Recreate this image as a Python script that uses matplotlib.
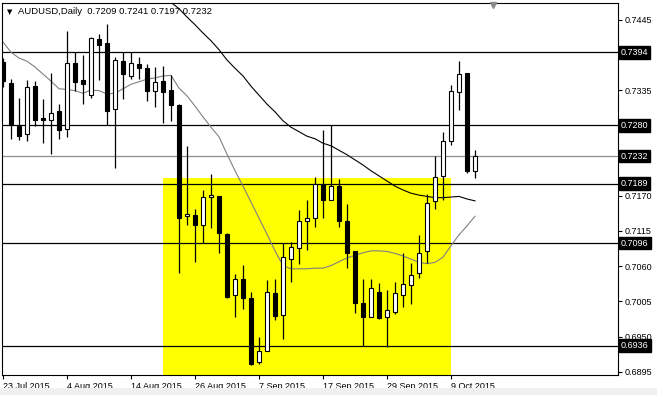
import numpy as np
import pandas as pd
import matplotlib
matplotlib.use("Agg")
import matplotlib.pyplot as plt
import matplotlib.transforms as mtransforms
from matplotlib.patches import Rectangle

# daily bars, weekdays only
dates = pd.bdate_range("2015-07-23", "2015-10-14")

opens = [0.7379, 0.7346, 0.7279, 0.7266, 0.7341, 0.7291, 0.7288, 0.7302, 0.7274, 0.7378,
         0.7351, 0.7327, 0.7415, 0.7409, 0.7305, 0.7380, 0.7357, 0.7375, 0.7369, 0.7334,
         0.7349, 0.7335, 0.7312, 0.7138, 0.7140, 0.7125, 0.7168, 0.7169, 0.7111, 0.7015,
         0.7040, 0.7010, 0.6911, 0.6928, 0.7018, 0.6984, 0.7072, 0.7088, 0.7131, 0.7135,
         0.7188, 0.7164, 0.7185, 0.7131, 0.7083, 0.7003, 0.6981, 0.7020, 0.6981, 0.6989,
         0.7015, 0.7031, 0.7049, 0.7083, 0.7162, 0.7201, 0.7256, 0.7332, 0.7361, 0.7209]
highs = [0.7385, 0.7352, 0.7322, 0.7351, 0.7349, 0.7321, 0.7362, 0.7313, 0.7427, 0.7394,
         0.7390, 0.7418, 0.7422, 0.7438, 0.7387, 0.7394, 0.7395, 0.7386, 0.7376, 0.7371,
         0.7373, 0.7359, 0.7313, 0.7248, 0.7150, 0.7179, 0.7204, 0.7170, 0.7112, 0.7048,
         0.7062, 0.7019, 0.6950, 0.7039, 0.7040, 0.7097, 0.7098, 0.7148, 0.7164, 0.7199,
         0.7273, 0.7280, 0.7196, 0.7157, 0.7084, 0.7040, 0.7040, 0.7034, 0.7023, 0.7036,
         0.7081, 0.7065, 0.7109, 0.7173, 0.7232, 0.7270, 0.7343, 0.7380, 0.7362, 0.7241]
lows = [0.7340, 0.7258, 0.7257, 0.7256, 0.7279, 0.7252, 0.7235, 0.7258, 0.7262, 0.7334,
        0.7314, 0.7322, 0.7351, 0.7280, 0.7214, 0.7321, 0.7352, 0.7352, 0.7318, 0.7309,
        0.7283, 0.7286, 0.7049, 0.7124, 0.7067, 0.7096, 0.7119, 0.7081, 0.7011, 0.6981,
        0.6993, 0.6906, 0.6908, 0.6927, 0.6976, 0.6946, 0.7036, 0.7064, 0.7086, 0.7121,
        0.7136, 0.7163, 0.7122, 0.7057, 0.6987, 0.6935, 0.6980, 0.6977, 0.6934, 0.6985,
        0.6997, 0.7001, 0.7041, 0.7065, 0.7149, 0.7163, 0.7249, 0.7304, 0.7206, 0.7197]
closes = [0.7349, 0.7280, 0.7264, 0.7339, 0.7289, 0.7288, 0.7299, 0.7273, 0.7378, 0.7348,
          0.7344, 0.7416, 0.7406, 0.7303, 0.7382, 0.7360, 0.7378, 0.7370, 0.7334, 0.7347,
          0.7332, 0.7312, 0.7136, 0.7141, 0.7125, 0.7168, 0.7171, 0.7112, 0.7012, 0.7040,
          0.7010, 0.6907, 0.6928, 0.7019, 0.6982, 0.7074, 0.7090, 0.7131, 0.7135, 0.7188,
          0.7164, 0.7186, 0.7131, 0.7081, 0.7003, 0.6981, 0.7026, 0.6979, 0.6991, 0.7018,
          0.7032, 0.7046, 0.7081, 0.7159, 0.7200, 0.7256, 0.7334, 0.7360, 0.7208, 0.7232]

# moving averages
ma_fast = [0.7410, 0.7394, 0.7385, 0.7380, 0.7371, 0.7360, 0.7349, 0.7337, 0.7336, 0.7334,
           0.7330, 0.7335, 0.7334, 0.7329, 0.7330, 0.7337, 0.7344, 0.7348, 0.7352, 0.7354,
           0.7357, 0.7358, 0.7338, 0.7326, 0.7310, 0.7293, 0.7277, 0.7262, 0.7235, 0.7209,
           0.7185, 0.7160, 0.7135, 0.7110, 0.7084, 0.7061, 0.7056, 0.7056, 0.7056, 0.7057,
           0.7057, 0.7061, 0.7067, 0.7073, 0.7077, 0.7081, 0.7084, 0.7084, 0.7083, 0.7080,
           0.7076, 0.7071, 0.7066, 0.7064, 0.7066, 0.7074, 0.7092, 0.7109, 0.7123, 0.7138]
ma_slow = [np.nan] * 20 + [
           0.7491, 0.7472, 0.7462, 0.7449, 0.7437, 0.7424, 0.7412, 0.7398, 0.7382, 0.7369,
           0.7357, 0.7341, 0.7327, 0.7313, 0.7301, 0.7287, 0.7277, 0.7270, 0.7263, 0.7259,
           0.7252, 0.7248, 0.7241, 0.7234, 0.7226, 0.7218, 0.7209, 0.7201, 0.7193, 0.7185,
           0.7179, 0.7174, 0.7171, 0.7169, 0.7167, 0.7167, 0.7168, 0.7169, 0.7165, 0.7162]

level_prices = [0.7394, 0.7280, 0.7189, 0.7096, 0.6936]
bid_price = 0.7232
price_ticks = [0.7445, 0.7390, 0.7335, 0.7280, 0.7225, 0.7170, 0.7115, 0.7060, 0.7005, 0.6950, 0.6895]
hidden_ticks = [0.7390, 0.7280, 0.7225]  # covered by the boxed labels
date_ticks = ["2015-07-23", "2015-08-04", "2015-08-14", "2015-08-26",
              "2015-09-07", "2015-09-17", "2015-09-29", "2015-10-09"]
date_labels = ["23 Jul 2015", "4 Aug 2015", "14 Aug 2015", "26 Aug 2015",
               "7 Sep 2015", "17 Sep 2015", "29 Sep 2015", "9 Oct 2015"]
zone_start, zone_end, zone_top = "2015-08-20", "2015-10-09", 0.7197

FONT = ["Liberation Sans", "DejaVu Sans"]
plt.rcParams["font.family"] = FONT

W, H = 657, 395
fig = plt.figure(figsize=(W / 100, H / 100), dpi=100)
fig.patch.set_facecolor("white")
fig.patches.append(Rectangle((0, 0), 1, 7 / H, transform=fig.transFigure,
                             facecolor="#f0f0f0", edgecolor="none"))

L, R, T, B = 2, 617.5, 3, 375
ax = fig.add_axes([L / W, 1 - B / H, (R - L) / W, (B - T) / H])

x = np.arange(len(dates))
pos = {d: i for i, d in enumerate(dates)}
o = np.array(opens); h = np.array(highs); lo = np.array(lows); c = np.array(closes)

# yellow zone
i0, i1 = pos[pd.Timestamp(zone_start)], pos[pd.Timestamp(zone_end)]
ax.add_patch(Rectangle((i0, 0.68), i1 - i0, zone_top - 0.68,
                       facecolor="#ffff00", edgecolor="none", zorder=1))

# horizontal levels
for p in level_prices:
    ax.axhline(p, color="black", lw=0.9, zorder=2)
ax.axhline(bid_price, color="#8c8c8c", lw=0.9, zorder=2)

# moving averages
ax.plot(x, ma_fast, color="#808080", lw=0.8, zorder=2.5)
ax.plot(x, ma_slow, color="black", lw=0.8, zorder=2.5)

# candles
up = c >= o
ax.vlines(x, lo, h, color="black", lw=0.9, zorder=3)
body_lo = np.minimum(o, c)
body_h = np.maximum(np.abs(c - o), 0.00004)
ax.bar(x[up], body_h[up], bottom=body_lo[up], width=0.5, color="white",
       edgecolor="black", linewidth=0.8, zorder=4)
ax.bar(x[~up], body_h[~up], bottom=body_lo[~up], width=0.5, color="black",
       edgecolor="black", linewidth=0.8, zorder=4)

ax.set_xlim((L - 3) / 8, (R - 3) / 8)
ax.set_ylim(0.68902, 0.74709)

for s in ax.spines.values():
    s.set_linewidth(0.8)

ax.yaxis.tick_right()
ax.set_yticks(price_ticks)
ax.set_yticklabels(["" if p in hidden_ticks else f"{p:.4f}" for p in price_ticks])
ax.tick_params(axis="y", direction="out", length=3, width=0.8, pad=2, labelsize=6.5)
ax.set_xticks([pos[pd.Timestamp(d)] for d in date_ticks])
ax.set_xticklabels(date_labels, ha="left")
ax.tick_params(axis="x", direction="out", length=3, width=0.8, pad=2, labelsize=6.5)

# boxed price labels on the right axis
trans = mtransforms.blended_transform_factory(ax.transAxes, ax.transData)
for p in level_prices + [bid_price]:
    ax.text(1.0058, p, f"{p:.4f}", transform=trans, ha="left", va="center",
            fontsize=6.5, color="white", clip_on=False, zorder=10,
            bbox=dict(boxstyle="square,pad=0.2", facecolor="black", edgecolor="black"))

# header
fig.text(7 / W, 1 - 14 / H, "\u25bc", fontsize=5, family="DejaVu Sans", va="baseline")
fig.text(18 / W, 1 - 14 / H, "AUDUSD,Daily  0.7209 0.7241 0.7197 0.7232",
         fontsize=6.8, va="baseline")

# chart shift marker at the top
ax.plot([61.25], [0.7468], marker="v", color="#8c8c8c", markersize=5,
        clip_on=False, zorder=6)

fig.savefig("out.png", dpi=100)
